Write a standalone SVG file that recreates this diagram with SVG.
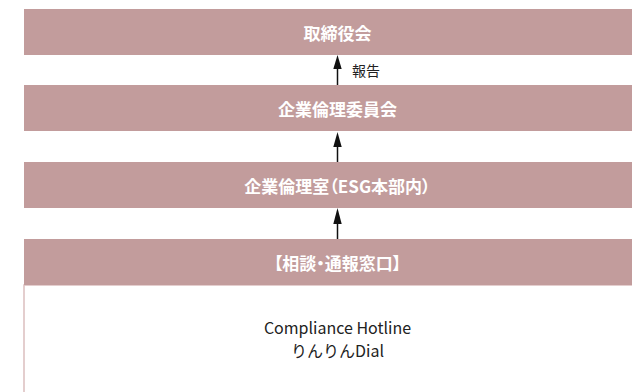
<svg xmlns="http://www.w3.org/2000/svg" width="632" height="392" viewBox="0 0 632 392">
<style>
.box{fill:#c29c9c}
.t{font-family:"Noto Sans CJK JP","Noto Sans",sans-serif;font-size:17px;font-weight:bold;fill:#ffffff;text-anchor:middle;dominant-baseline:central;font-feature-settings:"palt"}
.b{font-family:"Noto Sans CJK JP","Noto Sans",sans-serif;font-size:16px;fill:#222222;text-anchor:middle;dominant-baseline:central}
.lbl{font-family:"Noto Sans CJK JP","Noto Sans",sans-serif;font-size:14px;fill:#222222;dominant-baseline:central}
.ln{stroke:#111111;stroke-width:1.5;fill:none}
.hd{fill:#111111}
</style>
<rect x="0" y="0" width="632" height="392" fill="#ffffff"/>
<g id="n1"><rect class="box" x="24" y="9" width="628" height="46"/><text class="t" x="337.5" y="32">取締役会</text></g>
<g id="n2"><rect class="box" x="24" y="85" width="628" height="46"/><text class="t" x="337.5" y="108">企業倫理委員会</text></g>
<g id="n3"><rect class="box" x="24" y="162" width="628" height="46"/><text class="t" x="337.5" y="185">企業倫理室（ESG本部内）</text></g>
<g id="n4"><rect x="24" y="285" width="628" height="120" fill="#ffffff" stroke="#dcbebe" stroke-width="1.5"/><rect class="box" x="24" y="239" width="628" height="46"/><text class="t" x="337.5" y="262">【相談・通報窓口】</text><text class="b" x="337.5" y="327">Compliance Hotline</text><text class="b" x="337.5" y="350">りんりんDial</text></g>
<g id="connectors">
<line class="ln" x1="337.5" y1="85" x2="337.5" y2="66"/><polygon class="hd" points="337.5,55 333.3,69 341.7,69"/>
<text class="lbl" x="352" y="70">報告</text>
<line class="ln" x1="337.5" y1="162" x2="337.5" y2="143"/><polygon class="hd" points="337.5,132 333.3,147 341.7,147"/>
<line class="ln" x1="337.5" y1="239" x2="337.5" y2="220"/><polygon class="hd" points="337.5,208 333.3,224 341.7,224"/>
</g>
</svg>
